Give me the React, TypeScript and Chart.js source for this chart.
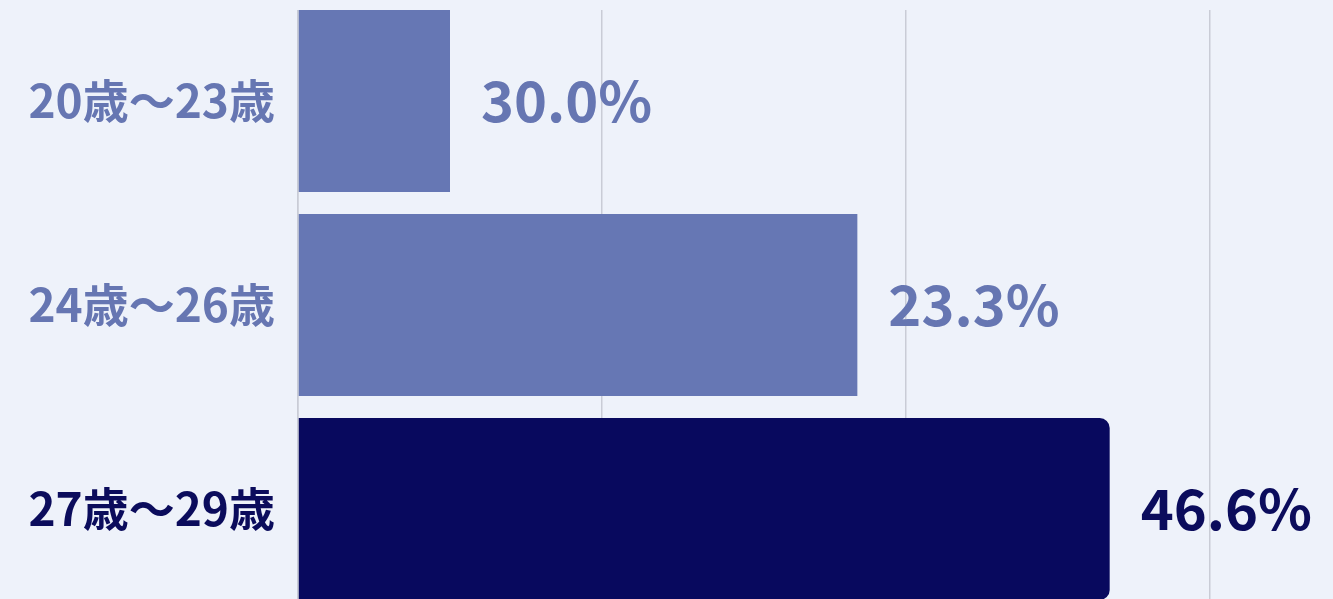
import React, { useEffect, useRef } from "react";
import { Chart, registerables } from "chart.js";

Chart.register(...registerables);

const categories = ["20歳～23歳", "24歳～26歳", "27歳～29歳"];
const barValues = [5.0, 18.4, 26.7];
const valueLabels = ["30.0%", "23.3%", "46.6%"];
const barColors = ["#6677b4", "#6677b4", "#08095e"];
const textColors = ["#6676b2", "#6676b2", "#0b0c5c"];
const barRadii = [0, 0, 10];

const BG = "#eef2fa";
const GRID = "#c9ccd6";
const FONT = "'Noto Sans CJK JP', 'Noto Sans', sans-serif";

export default function App() {
  const ref = useRef<HTMLCanvasElement | null>(null);

  useEffect(() => {
    if (!ref.current) return;

    const valueLabelPlugin = {
      id: "valueLabels",
      afterDraw(chart: any) {
        // hide grid and axis line above the first bar's top edge
        const { ctx, chartArea } = chart;
        const meta = chart.getDatasetMeta(0);
        const first = meta.data[0] as any;
        const top = first.y - first.height / 2;
        ctx.save();
        ctx.fillStyle = BG;
        ctx.fillRect(chartArea.left - 3, 0, chartArea.right - chartArea.left + 6, top);
        ctx.restore();
      },
      afterDatasetsDraw(chart: any) {
        const { ctx } = chart;
        const meta = chart.getDatasetMeta(0);
        ctx.save();
        ctx.font = `bold 56px ${FONT}`;
        ctx.textBaseline = "middle";
        ctx.textAlign = "left";
        meta.data.forEach((bar: any, i: number) => {
          ctx.fillStyle = textColors[i];
          ctx.fillText(valueLabels[i], bar.x + 31, bar.y);
        });
        ctx.restore();
      },
    };

    const chart = new Chart(ref.current, {
      type: "bar",
      data: {
        labels: categories,
        datasets: [
          {
            data: barValues,
            backgroundColor: barColors,
            borderRadius: barRadii,
            borderSkipped: "start",
            barPercentage: 1,
            categoryPercentage: 182 / 204,
          },
        ],
      },
      options: {
        indexAxis: "y",
        animation: false,
        responsive: false,
        maintainAspectRatio: false,
        layout: { padding: { top: 19, right: 38, bottom: 29, left: 0 } },
        plugins: {
          legend: { display: false },
          title: { display: false },
          tooltip: { enabled: false },
        },
        scales: {
          x: {
            min: 0,
            max: 35,
            ticks: { display: false, stepSize: 10 },
            grid: { color: GRID, lineWidth: 1.5, drawTicks: false },
            border: { display: false },
            afterFit(scale: any) {
              scale.height = 0;
              scale.paddingLeft = 0;
              scale.paddingRight = 0;
              scale.paddingTop = 0;
              scale.paddingBottom = 0;
            },
          },
          y: {
            ticks: {
              color: textColors,
              font: { family: FONT, size: 46, weight: "bold" },
              padding: 23,
            },
            grid: { display: false, drawTicks: false },
            border: { display: true, color: GRID, width: 1.5 },
            afterFit(scale: any) {
              scale.width = 298;
              scale.paddingTop = 0;
              scale.paddingBottom = 0;
              scale.paddingLeft = 0;
              scale.paddingRight = 0;
            },
          },
        },
      },
      plugins: [valueLabelPlugin],
    });

    return () => chart.destroy();
  }, []);

  return (
    <div
      style={{
        position: "fixed",
        top: 0,
        left: 0,
        width: 1333,
        height: 599,
        overflow: "hidden",
        background: BG,
      }}
    >
      <canvas
        ref={ref}
        width={1400}
        height={660}
        style={{ position: "absolute", top: -20, left: 0 }}
      />
    </div>
  );
}
